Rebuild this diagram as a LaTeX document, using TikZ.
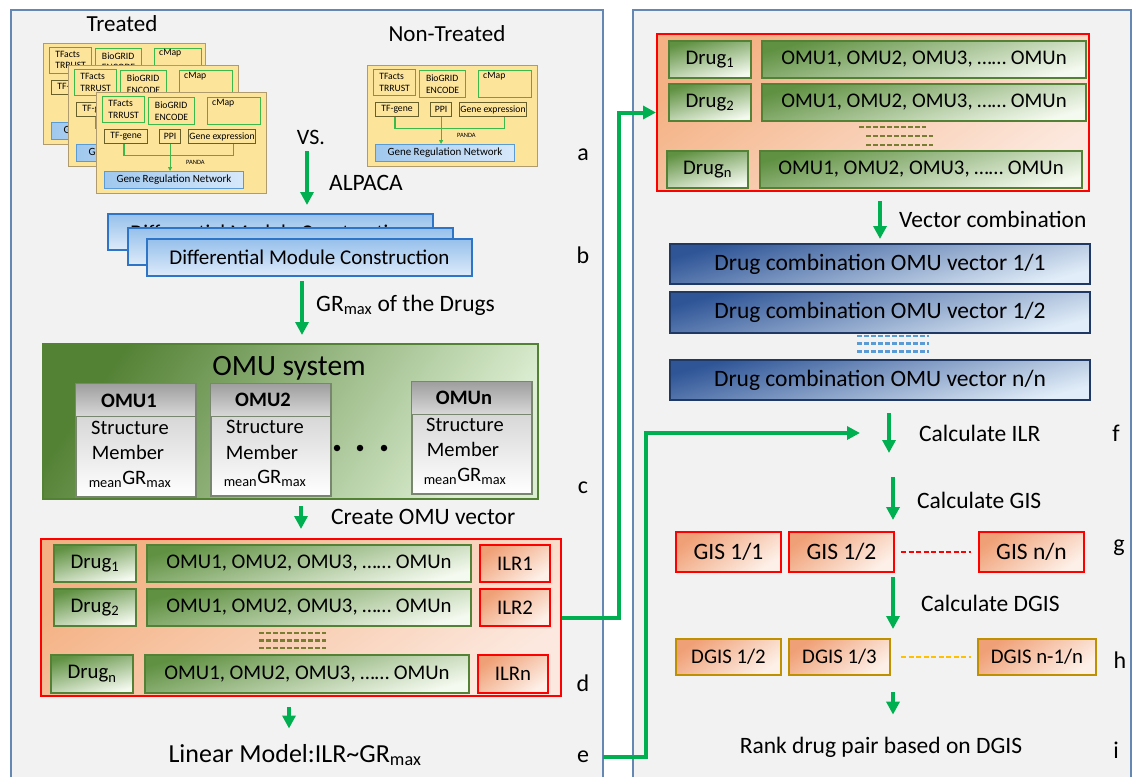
\documentclass[tikz,border=0pt]{standalone}
\usepackage{fontspec}
\setmainfont{Carlito}
\usetikzlibrary{arrows.meta,calc}

\definecolor{panelgray}{RGB}{242,242,242}
\definecolor{panelblue}{RGB}{100,135,180}
\definecolor{cardfill}{RGB}{253,228,155}
\definecolor{cardborder}{RGB}{175,155,110}
\definecolor{cardgreen}{RGB}{60,185,75}
\definecolor{cardolive}{RGB}{105,95,40}
\definecolor{grnborder}{RGB}{91,155,213}
\definecolor{grnleft}{RGB}{160,200,238}
\definecolor{grnright}{RGB}{215,232,250}
\definecolor{arrowgreen}{RGB}{0,176,80}
\definecolor{dmborder}{RGB}{46,117,200}
\definecolor{dmtop}{RGB}{150,192,235}
\definecolor{dmbot}{RGB}{222,235,250}
\definecolor{omudark}{RGB}{84,130,53}
\definecolor{omulight}{RGB}{220,238,210}
\definecolor{omuline}{RGB}{120,135,110}
\definecolor{salmon}{RGB}{244,177,131}
\definecolor{salmonlight}{RGB}{252,232,222}
\definecolor{salmondark}{RGB}{240,160,118}
\definecolor{salmonpale}{RGB}{253,240,232}
\definecolor{druggreen}{RGB}{96,145,66}
\definecolor{drugwhite}{RGB}{245,250,240}
\definecolor{drugborder}{RGB}{83,129,53}
\definecolor{navy}{RGB}{32,56,100}
\definecolor{navyfill}{RGB}{47,85,151}
\definecolor{lightblue}{RGB}{225,237,248}
\definecolor{gold}{RGB}{191,144,0}
\definecolor{dashblue}{RGB}{91,155,213}
\definecolor{dasholive}{RGB}{120,125,50}
\definecolor{yellowdash}{RGB}{255,192,0}

\newcommand\myfs[2]{\fontsize{#1}{#2}\selectfont}
\newcommand\cardfs{\myfs{9.7}{11.5}}
\newcommand\labfs{\myfs{23.5}{27}}
\newcommand\boxfs{\myfs{20.8}{24}}

\tikzset{
  panelline/.style={draw=panelblue, line width=1.3pt},
  card/.style={draw=cardborder, fill=cardfill, line width=1.2pt},
  gbox/.style={draw=cardgreen, line width=1.2pt},
  obox/.style={draw=cardolive, line width=1.1pt},
  grnbox/.style={draw=grnborder, line width=1pt, left color=grnleft, right color=grnright},
  cardarrow/.style={draw=cardgreen, line width=1pt, -{Triangle[length=4pt,width=4pt]}},
  dmbox/.style={draw=dmborder, line width=2pt, top color=dmtop, bottom color=dmbot},
  omusysbox/.style={draw=omudark, line width=2pt, top color=omudark, bottom color=omulight, shading angle=55},
  omubody/.style={draw=omuline, line width=1.5pt, top color=black!22, bottom color=white},
  omuhead/.style={draw=omuline, line width=1.2pt, top color=black!38, bottom color=black!15},
  redbox/.style={draw=red, line width=2pt, top color=salmon, bottom color=salmonlight, shading angle=35},
  drugbox/.style={draw=drugborder, line width=2pt, top color=druggreen, bottom color=drugwhite, shading angle=15},
  ilrbox/.style={draw=red, line width=2pt, top color=salmondark, bottom color=salmonpale, shading angle=35},
  bluebox/.style={draw=navy, line width=2pt, top color=navyfill, bottom color=lightblue, shading angle=15},
  gisbox/.style={draw=red, line width=2pt, top color=salmondark, bottom color=salmonpale, shading angle=35},
  dgisbox/.style={draw=gold, line width=2pt, top color=salmondark, bottom color=salmonpale, shading angle=35},
  garrow/.style={draw=arrowgreen, line width=4pt, -{Triangle[length=13pt,width=13pt]}},
  gconn/.style={draw=arrowgreen, line width=4pt, -{Triangle[length=13pt,width=13pt]}},
  dashline/.style={line width=2.4pt, dash pattern=on 5pt off 2pt},
  lab/.style={font=\labfs, inner sep=0pt},
  letter/.style={font=\myfs{24}{28}, inner sep=0pt},
}

\newcommand\bx[7]{\node[#2,anchor=north west,inner sep=0pt,minimum width={#5pt-#3pt},minimum height={#6pt-#4pt}] (#1) at (#3,#4) {#7};}

\newcommand\gcard[5]{%
\begin{scope}[shift={(#2,#3)}]
\bx{#1}{card}{0}{0}{#4}{101}{}
\bx{#1tf}{gbox,align=left,font=\cardfs}{6}{4}{48}{30}{TFacts\\TRRUST}
\bx{#1bg}{gbox,align=left,font=\cardfs}{52}{5}{98}{32}{BioGRID\\ENCODE}
\bx{#1cm}{gbox}{111}{5}{#5}{32}{}
\node[font=\cardfs, anchor=north west, inner sep=0pt] (#1cmt) at (116,7) {cMap};
\bx{#1tg}{obox,font=\cardfs}{8}{37}{51}{51}{TF-gene}
\bx{#1pp}{obox,font=\cardfs}{63}{37}{84}{51}{PPI}
\bx{#1ge}{obox,font=\cardfs}{92}{37}{159}{51}{Gene expression}
\bx{#1grn}{grnbox,font=\myfs{11}{13}}{8}{79}{147}{96}{Gene Regulation Network}
\draw[cardgreen, line width=1.2pt] ([xshift=-2pt]#1tg.south) -- ++(0,11) -| ([xshift=11.5pt]#1ge.south);
\draw[cardarrow] (#1pp.south) -- (#1pp.south |- #1grn.north);
\node[font=\myfs{6.5}{7}, anchor=west, inner sep=0pt] (#1pa) at (90,70) {PANDA};
\end{scope}}

\newcommand\omubox[6]{%
\bx{#1}{omubody}{#2}{#3}{#4}{#5}{}
\bx{#1h}{omuhead}{#2}{#3}{#4}{#6}{}
}

\begin{document}
\begin{tikzpicture}[x=1pt,y=-1pt]
\useasboundingbox (0,0) rectangle (1137,777);
\fill[white] (0,0) rectangle (1137,777);

% panels
\fill[panelgray] (11,10) rectangle (603,777);
\draw[panelline] (11,777) -- (11,10) -- (603,10) -- (603,777);
\fill[panelgray] (633,10) rectangle (1131,777);
\draw[panelline] (633,777) -- (633,10) -- (1131,10) -- (1131,777);

% ---------- a ----------
\node[font=\myfs{23}{26}] (treated) at (122,24) {Treated};
\node[font=\myfs{23}{26}] (nontreated) at (447,34) {Non-Treated};
\gcard{ca}{43}{42.5}{162}{158}
\gcard{cb}{68}{65}{170}{164}
\gcard{cc}{96}{92}{170}{164}
\gcard{cn}{367}{65}{170}{164}
\node[font=\myfs{22}{26}] (vs) at (311,137) {VS.};
\coordinate (alpstart) at (307,151);
\node[lab, anchor=west] (alpaca) at (329,183) {ALPACA};
\node[letter] (la) at (583,155) {a};

% ---------- b ----------
\bx{dmback}{dmbox,font=\myfs{21}{24}}{107}{213}{432}{249}{Differential Module Construction}
\bx{dmmid}{dmbox,font=\myfs{21}{24}}{127}{227}{452}{264}{Differential Module Construction}
\bx{dmfront}{dmbox,font=\myfs{21}{24}}{146}{238}{471}{275}{Differential Module Construction}
\draw[garrow, shorten >=8pt] (alpstart) -- (alpstart |- dmback.north);
\node[letter] (lb) at (583,255) {b};

\coordinate (grstart) at (302,281);
\node[lab, anchor=west] (grlab) at (316,305) {GR\textsubscript{max} of the Drugs};

% ---------- c ----------
\bx{omusys}{omusysbox}{42}{343}{537}{498}{}
\draw[garrow, shorten >=8pt] (grstart) -- (grstart |- omusys.north);
\node[font=\myfs{29.5}{32}] (omutitle) at (289,368) {OMU system};
\omubox{o1}{75}{383}{195}{496}{416}
\omubox{o2}{210}{383}{330}{495}{416}
\omubox{on}{411}{381}{531}{493}{414}
\node[font=\bfseries\myfs{20.5}{23}] (o1t) at (129,401) {OMU1};
\node[font=\myfs{20.5}{23}] (o1s) at (130,428) {Structure};
\node[font=\myfs{20.5}{23}] (o1m) at (128,452) {Member};
\node[font=\myfs{20.5}{23}] (o1g) at (130,479) {\textsubscript{mean}GR\textsubscript{max}};
\node[font=\bfseries\myfs{20.5}{23}] (o2t) at (263,400) {OMU2};
\node[font=\myfs{20.5}{23}] (o2s) at (265,427) {Structure};
\node[font=\myfs{20.5}{23}] (o2m) at (262,452) {Member};
\node[font=\myfs{20.5}{23}] (o2g) at (265,478) {\textsubscript{mean}GR\textsubscript{max}};
\node[font=\bfseries\myfs{20.5}{23}] (ont) at (464,398) {OMUn};
\node[font=\myfs{20.5}{23}] (ons) at (465,425) {Structure};
\node[font=\myfs{20.5}{23}] (onm) at (463,449) {Member};
\node[font=\myfs{20.5}{23}] (ong) at (465,476) {\textsubscript{mean}GR\textsubscript{max}};
\node[circle, fill=black, inner sep=0pt, minimum size=6.5pt] (dot1) at (337,448) {};
\node[circle, fill=black, inner sep=0pt, minimum size=6.5pt] (dot2) at (360,448) {};
\node[circle, fill=black, inner sep=0pt, minimum size=6.5pt] (dot3) at (384,448) {};
\node[letter] (lc) at (583,488) {c};

% ---------- d ----------
\coordinate (crstart) at (301,506);
\node[lab, anchor=west] (createlab) at (331,517) {Create OMU vector};
\bx{dbox}{redbox}{40}{538}{560}{695}{}
\draw[garrow, shorten >=9pt] (crstart) -- (crstart |- dbox.north);
\bx{d1drug}{drugbox,font=\boxfs}{53}{544}{135}{581}{Drug\textsubscript{1}}
\bx{d1omu}{drugbox,font=\boxfs}{146}{544}{470}{581}{OMU1, OMU2, OMU3, …… OMUn}
\bx{d1ilr}{ilrbox,font=\boxfs}{479}{544}{549}{581}{ILR1}
\bx{d2drug}{drugbox,font=\boxfs}{53}{588}{135}{625}{Drug\textsubscript{2}}
\bx{d2omu}{drugbox,font=\boxfs}{146}{588}{470}{625}{OMU1, OMU2, OMU3, …… OMUn}
\bx{d2ilr}{ilrbox,font=\boxfs}{479}{588}{549}{625}{ILR2}
\draw[dashline, dasholive] (259,633) -- (326,633);
\draw[dashline, dasholive] (259,640.5) -- (326,640.5);
\draw[dashline, dasholive] (259,648) -- (326,648);
\bx{dndrug}{drugbox,font=\boxfs}{50}{654}{132}{692}{Drug\textsubscript{n}}
\bx{dnomu}{drugbox,font=\boxfs}{144}{654}{468}{692}{OMU1, OMU2, OMU3, …… OMUn}
\bx{dnilr}{ilrbox,font=\boxfs}{477}{654}{547}{692}{ILRn}
\node[letter] (ld) at (583,683) {d};

% ---------- e ----------
\coordinate (lmstart) at (289,707);
\node[font=\myfs{26}{30}] (linmod) at (295,755) {Linear Model:ILR\textasciitilde GR\textsubscript{max}};
\draw[garrow, shorten >=12pt] (lmstart) -- (lmstart |- linmod.north);
\node[letter] (le) at (583,757) {e};

% ---------- right panel ----------
\bx{rbox}{redbox}{656}{33}{1088}{190}{}
\bx{r1drug}{drugbox,font=\boxfs}{668}{40}{750}{77}{Drug\textsubscript{1}}
\bx{r1omu}{drugbox,font=\boxfs}{761}{40}{1085}{77}{OMU1, OMU2, OMU3, …… OMUn}
\bx{r2drug}{drugbox,font=\boxfs}{668}{83}{750}{120}{Drug\textsubscript{2}}
\bx{r2omu}{drugbox,font=\boxfs}{761}{83}{1085}{120}{OMU1, OMU2, OMU3, …… OMUn}
\draw[dashline, dasholive] (859,127) -- (926,127);
\draw[dashline, dasholive] (866,136) -- (933,136);
\draw[dashline, dasholive] (866,145) -- (933,145);
\bx{rndrug}{drugbox,font=\boxfs}{666}{150}{747}{187}{Drug\textsubscript{n}}
\bx{rnomu}{drugbox,font=\boxfs}{759}{150}{1081}{187}{OMU1, OMU2, OMU3, …… OMUn}

\coordinate (vcstart) at (880,201);
\node[lab, anchor=west] (vclab) at (899,219) {Vector combination};
\bx{v1}{bluebox,font=\labfs}{669}{243}{1089}{283}{Drug combination OMU vector 1/1}
\draw[garrow, shorten >=4pt] (vcstart) -- (vcstart |- v1.north);
\bx{v2}{bluebox,font=\labfs}{669}{291}{1089}{332}{Drug combination OMU vector 1/2}
\draw[dashline, dashblue] (857,336) -- (929,336);
\draw[dashline, dashblue] (857,343.5) -- (929,343.5);
\draw[dashline, dashblue] (857,351.5) -- (929,351.5);
\bx{v3}{bluebox,font=\labfs}{669}{359}{1089}{399}{Drug combination OMU vector n/n}

\coordinate (ilrstart) at (889,413);
\coordinate (ilrend) at (889,453);
\draw[garrow] (ilrstart) -- (ilrend);
\node[lab, anchor=west] (ilrlab) at (919,433) {Calculate ILR};
\node[letter] (lf) at (1116,433) {f};

\coordinate (gisstart) at (893,477);
\node[lab, anchor=west] (gislab) at (917,500) {Calculate GIS};
\bx{gis1}{gisbox,font=\labfs}{675}{531}{780}{571}{GIS 1/1}
\bx{gis2}{gisbox,font=\labfs}{788}{531}{893}{571}{GIS 1/2}
\bx{gisn}{gisbox,font=\labfs}{978}{531}{1083}{571}{GIS n/n}
\draw[garrow, shorten >=11pt] (gisstart) -- (gisstart |- gis2.north);
\draw[red, line width=2pt, dash pattern=on 5pt off 2.5pt, shorten <=6pt, shorten >=7pt] (gis2.east) -- (gisn.west);
\node[letter] (lg) at (1119,548) {g};

\coordinate (dgstart) at (893,577);
\node[lab, anchor=west] (dglab) at (921,603) {Calculate DGIS};
\bx{dg1}{dgisbox,font=\boxfs}{675}{638}{780}{674}{DGIS 1/2}
\bx{dg2}{dgisbox,font=\boxfs}{788}{638}{889}{674}{DGIS 1/3}
\bx{dgn}{dgisbox,font=\boxfs}{977}{638}{1095}{674}{DGIS n-1/n}
\draw[garrow, shorten >=9pt] (dgstart) -- (dgstart |- dg2.north);
\draw[yellowdash, line width=2pt, dash pattern=on 5pt off 2.5pt, shorten <=10pt, shorten >=6pt] (dg2.east) -- (dgn.west);
\node[letter] (lh) at (1120,660) {h};

\coordinate (rkstart) at (893,692);
\node[lab] (rank) at (881,747) {Rank drug pair based on DGIS};
\draw[garrow, shorten >=22pt] (rkstart) -- (rkstart |- rank.north);
\node[letter] (li) at (1116,750) {i};

% ---------- connectors ----------
\draw[gconn] (dbox.east) -- ++(57,0) |- (rbox.west);
\coordinate (estart) at (603,757);
\coordinate (ilrin) at (860,433);
\draw[gconn] (estart) -- ++(43,0) |- (ilrin);
\end{tikzpicture}
\end{document}
